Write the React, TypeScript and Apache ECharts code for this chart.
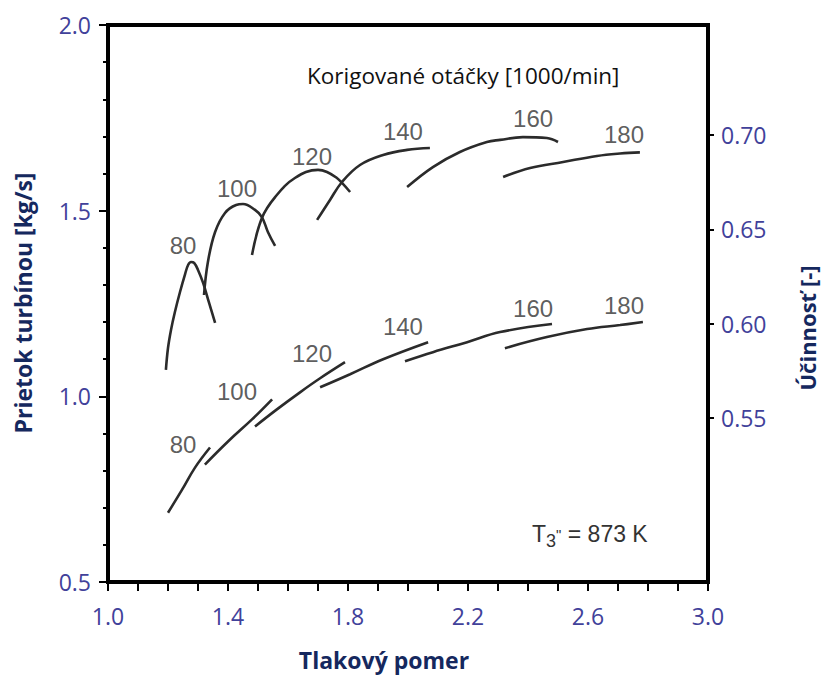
import React, { useEffect, useRef } from "react";
import * as echarts from "echarts";

// Speed lines (corrected speed, 1000/min)
const speeds = ["80", "100", "120", "140", "160", "180"];

// Efficiency curves (right axis) – x: pressure ratio, y: efficiency
const eff80X = [1.193, 1.2, 1.21, 1.223, 1.24, 1.257, 1.267, 1.277, 1.287, 1.3, 1.317, 1.337, 1.357];
const eff80Y = [0.5755, 0.5871, 0.5967, 0.6062, 0.6168, 0.6263, 0.6311, 0.6327, 0.6322, 0.6285, 0.6216, 0.611, 0.6004];
const eff100X = [1.32, 1.333, 1.357, 1.39, 1.427, 1.45, 1.49, 1.513, 1.533, 1.557];
const eff100Y = [0.6152, 0.6327, 0.6486, 0.6587, 0.6629, 0.6634, 0.6603, 0.6565, 0.6486, 0.6412];
const eff120X = [1.48, 1.513, 1.557, 1.623, 1.7, 1.73, 1.763, 1.78, 1.807];
const eff120Y = [0.6364, 0.656, 0.6671, 0.6772, 0.6815, 0.6804, 0.6772, 0.6746, 0.6698];
const eff140X = [1.697, 1.74, 1.78, 1.84, 1.917, 1.997, 2.073];
const eff140Y = [0.655, 0.6656, 0.6751, 0.6841, 0.6894, 0.6921, 0.6931];
const eff160X = [1.997, 2.083, 2.173, 2.263, 2.307, 2.383, 2.463, 2.5];
const eff160Y = [0.6724, 0.683, 0.691, 0.6963, 0.6974, 0.6989, 0.6984, 0.6963];
const eff180X = [2.317, 2.407, 2.517, 2.63, 2.707, 2.773];
const eff180Y = [0.6777, 0.6825, 0.6857, 0.6889, 0.6902, 0.6908];

// Mass-flow curves (left axis) – x: pressure ratio, y: kg/s
const flow80X = [1.2, 1.247, 1.29, 1.34];
const flow80Y = [0.6865, 0.7486, 0.8081, 0.8622];
const flow100X = [1.323, 1.4, 1.48, 1.547];
const flow100Y = [0.8162, 0.8784, 0.9378, 0.9919];
const flow120X = [1.49, 1.563, 1.64, 1.707, 1.79];
const flow120Y = [0.9189, 0.9649, 1.0108, 1.0486, 1.0919];
const flow140X = [1.707, 1.807, 1.917, 2.067];
const flow140Y = [1.0243, 1.0595, 1.1, 1.1459];
const flow160X = [1.99, 2.083, 2.197, 2.307, 2.48];
const flow160Y = [1.0946, 1.1189, 1.1459, 1.173, 1.1946];
const flow180X = [2.323, 2.463, 2.597, 2.707, 2.783];
const flow180Y = [1.1297, 1.1595, 1.1811, 1.1919, 1.2];

// Curve label anchor points
const effLabelX = [1.25, 1.43, 1.68, 1.983, 2.417, 2.72];
const effLabelY = [0.6412, 0.6719, 0.6888, 0.7016, 0.7085, 0.7001];
const flowLabelX = [1.25, 1.43, 1.68, 1.983, 2.417, 2.72];
const flowLabelY = [0.8703, 1.0135, 1.1162, 1.1892, 1.2378, 1.2459];

// Axis ticks / labels
const ratioLabels = [1.0, 1.4, 1.8, 2.2, 2.6, 3.0];
const ratioTicks = [1.0, 1.1, 1.2, 1.3, 1.4, 1.5, 1.6, 1.7, 1.8, 1.9, 2.0, 2.1, 2.2, 2.3, 2.4, 2.5, 2.6, 2.7, 2.8, 2.9, 3.0];
const effTicks = [0.55, 0.6, 0.65, 0.7];

const effCurves = [
  [eff80X, eff80Y],
  [eff100X, eff100Y],
  [eff120X, eff120Y],
  [eff140X, eff140Y],
  [eff160X, eff160Y],
  [eff180X, eff180Y],
];
const flowCurves = [
  [flow80X, flow80Y],
  [flow100X, flow100Y],
  [flow120X, flow120Y],
  [flow140X, flow140Y],
  [flow160X, flow160Y],
  [flow180X, flow180Y],
];

const tickColor = "#41419a";
const nameColor = "#15285e";
const tickFont = "'Open Sans', 'Noto Sans', sans-serif";
const labelFont = "'Liberation Sans', Arial, sans-serif";
const curveColor = "#2b2b2b";

export default function App() {
  const ref = useRef<HTMLDivElement>(null);

  useEffect(() => {
    if (!ref.current) return;
    const chart = echarts.init(ref.current, undefined, { renderer: "svg" });

    const lineSeries: any[] = [];
    effCurves.forEach(([xs, ys], i) => {
      lineSeries.push({
        type: "line",
        name: "eff " + speeds[i],
        yAxisIndex: 1,
        smooth: 0.4,
        symbol: "none",
        silent: true,
        lineStyle: { color: curveColor, width: 2.6 },
        data: xs.map((x, k) => [x, ys[k]]),
      });
    });
    flowCurves.forEach(([xs, ys], i) => {
      lineSeries.push({
        type: "line",
        name: "flow " + speeds[i],
        yAxisIndex: 0,
        smooth: 0.4,
        symbol: "none",
        silent: true,
        lineStyle: { color: curveColor, width: 2.6 },
        data: xs.map((x, k) => [x, ys[k]]),
      });
    });

    const labelStyle = {
      show: true,
      position: "inside",
      formatter: "{b}",
      color: "#333333",
      fontSize: 24,
      fontFamily: labelFont,
    };

    lineSeries.push({
      type: "scatter",
      name: "eff labels",
      yAxisIndex: 1,
      symbolSize: 1,
      silent: true,
      itemStyle: { color: "rgba(0,0,0,0)" },
      label: labelStyle,
      data: speeds.map((s, i) => ({ name: s, value: [effLabelX[i], effLabelY[i]] })),
    });
    lineSeries.push({
      type: "scatter",
      name: "flow labels",
      yAxisIndex: 0,
      symbolSize: 1,
      silent: true,
      itemStyle: { color: "rgba(0,0,0,0)" },
      label: labelStyle,
      data: speeds.map((s, i) => ({ name: s, value: [flowLabelX[i], flowLabelY[i]] })),
    });

    chart.setOption({
      animation: false,
      backgroundColor: "#ffffff",
      grid: {
        left: 108,
        top: 25,
        right: 116,
        bottom: 95,
        show: true,
        borderColor: "#000",
        borderWidth: 4,
        backgroundColor: "transparent",
      },
      xAxis: {
        type: "value",
        min: 1,
        max: 3,
        axisLine: { show: true, onZero: false, lineStyle: { color: "#000", width: 4 } },
        axisTick: { show: true, customValues: ratioTicks, length: 9, lineStyle: { color: "#000", width: 2 } },
        axisLabel: {
          customValues: ratioLabels,
          formatter: (v: number) => v.toFixed(1),
          color: tickColor,
          fontSize: 23,
          fontFamily: tickFont,
          margin: 22,
        },
        splitLine: { show: false },
      },
      yAxis: [
        {
          type: "value",
          position: "left",
          min: 0.5,
          max: 2.0,
          interval: 0.5,
          axisLine: { show: true, onZero: false, lineStyle: { color: "#000", width: 4 } },
          axisTick: { show: true, length: 9, lineStyle: { color: "#000", width: 2 } },
          minorTick: { show: true, splitNumber: 5, length: 5, lineStyle: { color: "#000", width: 2 } },
          axisLabel: {
            formatter: (v: number) => v.toFixed(1),
            color: tickColor,
            fontSize: 23,
            fontFamily: tickFont,
            margin: 17,
          },
          splitLine: { show: false },
        },
        {
          type: "value",
          position: "right",
          min: 0.4631,
          max: 0.7583,
          axisLine: { show: true, onZero: false, lineStyle: { color: "#000", width: 4 } },
          axisTick: { show: true, customValues: effTicks, length: 6, lineStyle: { color: "#000", width: 2 } },
          axisLabel: {
            customValues: effTicks,
            formatter: (v: number) => v.toFixed(2),
            color: tickColor,
            fontSize: 23,
            fontFamily: tickFont,
            margin: 13,
          },
          splitLine: { show: false },
        },
      ],
      graphic: [
        {
          type: "text",
          x: 23,
          y: 303,
          rotation: Math.PI / 2,
          silent: true,
          style: {
            text: "Prietok turbínou [kg/s]",
            fill: nameColor,
            font: `bold 23px ${tickFont}`,
            align: "center",
            verticalAlign: "middle",
          },
        },
        {
          type: "text",
          x: 807,
          y: 328,
          rotation: Math.PI / 2,
          silent: true,
          style: {
            text: "Účinnosť [-]",
            fill: nameColor,
            font: `bold 22px ${tickFont}`,
            align: "center",
            verticalAlign: "middle",
          },
        },
        {
          type: "text",
          x: 384,
          y: 660,
          silent: true,
          style: {
            text: "Tlakový pomer",
            fill: nameColor,
            font: `bold 23px ${tickFont}`,
            align: "center",
            verticalAlign: "middle",
          },
        },
        {
          type: "text",
          x: 307,
          y: 75,
          silent: true,
          style: {
            text: "Korigované otáčky [1000/min]",
            fill: "#111111",
            font: `22.5px ${tickFont}`,
            align: "left",
            verticalAlign: "middle",
          },
        },
        {
          type: "text",
          x: 532,
          y: 534,
          silent: true,
          style: {
            text: '{t|T}{s|3}{p|"}{t| = 873 K}',
            align: "left",
            verticalAlign: "middle",
            rich: {
              t: { fontSize: 23, fontFamily: labelFont, fill: "#333333", color: "#333333", lineHeight: 32, verticalAlign: "middle" },
              s: { fontSize: 18, fontFamily: labelFont, fill: "#333333", color: "#333333", lineHeight: 32, verticalAlign: "bottom" },
              p: { fontSize: 15, fontFamily: labelFont, fill: "#333333", color: "#333333", lineHeight: 32, verticalAlign: "middle" },
            },
          },
        },
      ],
      series: lineSeries,
    });

    return () => {
      chart.dispose();
    };
  }, []);

  return (
    <div
      ref={ref}
      style={{ position: "fixed", left: 0, top: 0, width: 824, height: 677, background: "#fff" }}
    />
  );
}
